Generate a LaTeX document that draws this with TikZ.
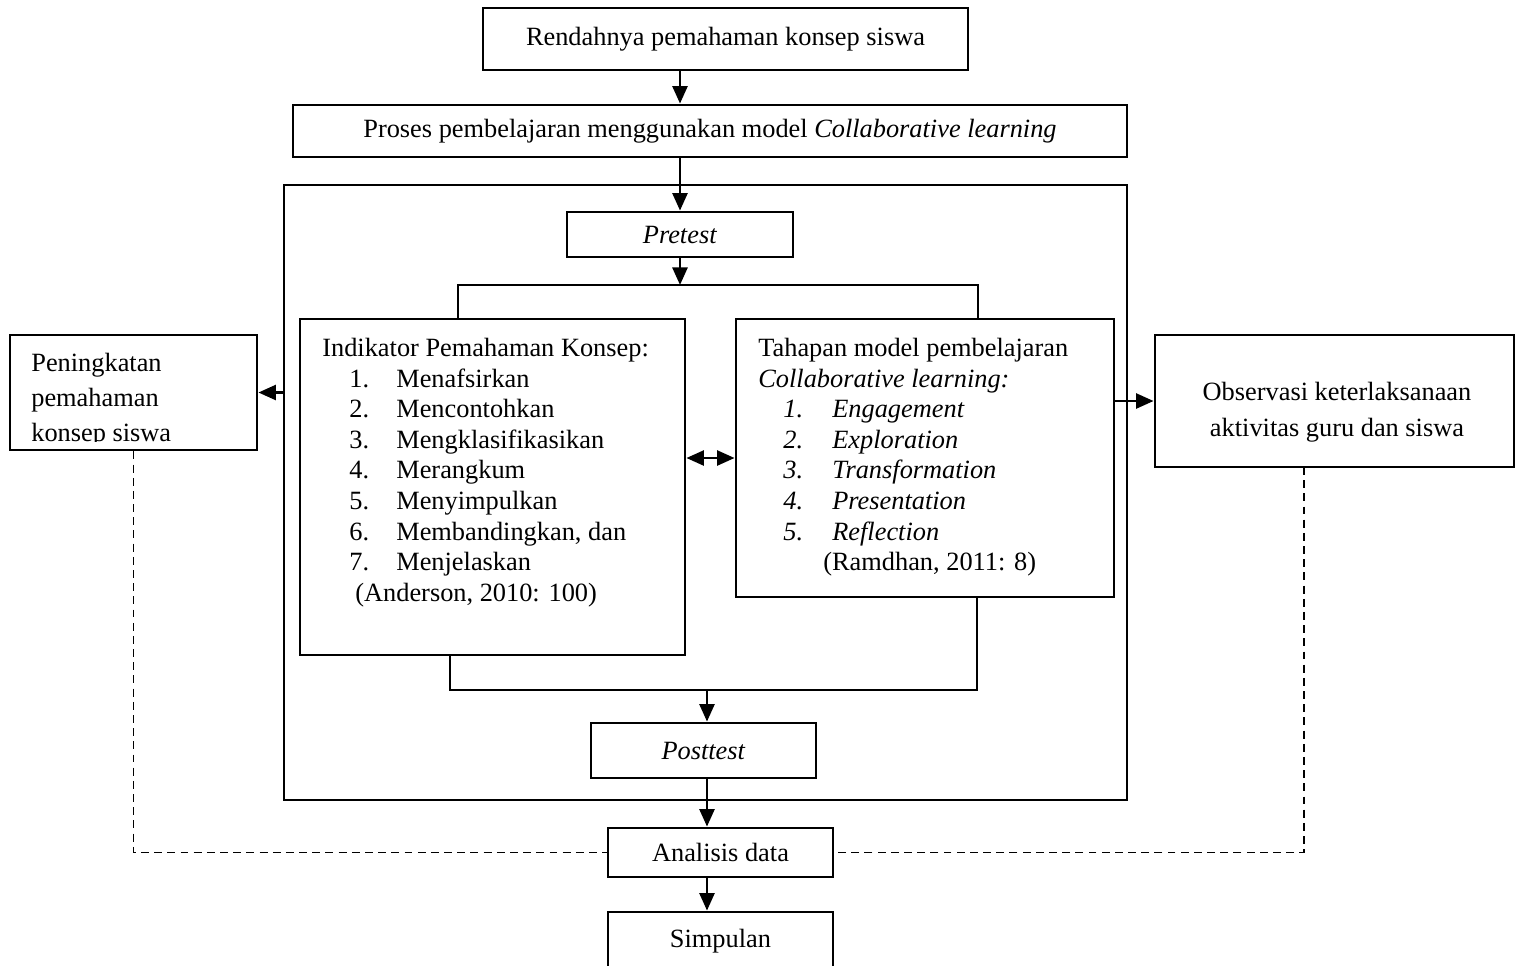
\documentclass[tikz,border=0pt]{standalone}
\usepackage{fontspec}
\setmainfont{Liberation Serif}
\usetikzlibrary{arrows.meta,positioning}

% one numbered line of a list: indent, number, text
\newcommand{\langkah}[3][0.54cm]{\hspace*{#1}\makebox[\dimexpr1.48cm-#1\relax][l]{#2}#3}

\begin{document}
\begin{tikzpicture}
        [box/.style={draw, line width=1.6pt, inner sep=0pt},
        edge/.style={line width=1.6pt, -{Triangle[length=10pt,width=8.5pt]}},
        dedge/.style={line width=1.6pt, {Triangle[length=10pt,width=8.5pt]}-{Triangle[length=10pt,width=8.5pt]}},
        link/.style={line width=1.6pt},
        dline/.style={line width=1.1pt, dash pattern=on 4.5pt off 3pt},
        txt/.style={inner sep=0pt, align=left, font=\fontsize{15}{17.4}\selectfont},
        font=\fontsize{15}{17.4}\selectfont]

        \useasboundingbox (0,0) rectangle (30.44,-19.30);

        \node[box, minimum width=9.70cm, minimum height=1.24cm] (rendah) at (14.51,-0.78) {Rendahnya pemahaman konsep siswa};
        \node[box, minimum width=16.68cm, minimum height=1.04cm] (proses) at (14.20,-2.62) {Proses pembelajaran menggunakan model \textit{Collaborative learning}};
        \node[box, minimum width=16.86cm, minimum height=12.30cm] (frame) at (14.11,-9.85) {};
        \node[box, minimum width=4.52cm, minimum height=0.90cm] (pretest) at (13.60,-4.69) {\textit{Pretest}};
        \node[box, minimum width=7.70cm, minimum height=6.72cm] (ind) at (9.85,-9.74) {};
        \node[box, minimum width=7.56cm, minimum height=5.56cm] (tah) at (18.50,-9.16) {};
        \node[box, minimum width=4.50cm, minimum height=1.10cm] (post) at (14.07,-15.01) {\textit{Posttest}};
        \node[box, minimum width=4.50cm, minimum height=0.98cm] (analisis) at (14.41,-17.05) {Analisis data};
        \node[box, minimum width=4.50cm, minimum height=1.16cm] (simpulan) at (14.41,-18.82) {Simpulan};
        \node[box, minimum width=4.94cm, minimum height=2.30cm] (pening) at (2.67,-7.85) {};
        \node[box, minimum width=7.18cm, minimum height=2.64cm] (obs) at (26.69,-8.02) {};

        % texts of the two list boxes
        \node[txt, anchor=north west] (indtxt) at (6.44,-6.76) {Indikator Pemahaman Konsep:\\
            \langkah{1.}{Menafsirkan}\\
            \langkah{2.}{Mencontohkan}\\
            \langkah{3.}{Mengklasifikasikan}\\
            \langkah{4.}{Merangkum}\\
            \langkah{5.}{Menyimpulkan}\\
            \langkah{6.}{Membandingkan, dan}\\
            \langkah{7.}{Menjelaskan}\\
            \hspace*{0.66cm}(Anderson, 2010: 100)};
        \node[txt, anchor=north west] (tahtxt) at (15.16,-6.76) {Tahapan model pembelajaran\\
            \textit{Collaborative learning:}\\
            \langkah[0.50cm]{\textit{1.}}{\textit{Engagement}}\\
            \langkah[0.50cm]{\textit{2.}}{\textit{Exploration}}\\
            \langkah[0.50cm]{\textit{3.}}{\textit{Transformation}}\\
            \langkah[0.50cm]{\textit{4.}}{\textit{Presentation}}\\
            \langkah[0.50cm]{\textit{5.}}{\textit{Reflection}}\\
            \hspace*{1.30cm}(Ramdhan, 2011: 8)};

        % side boxes (text of the left one is cut off at its last line)
        \coordinate (peningcut) at (5.14,-8.83);
        \begin{scope}
            \clip (pening.north west) rectangle (peningcut);
            \node[txt, anchor=north west, font=\fontsize{15}{19.8}\selectfont] (peningtxt) at (0.62,-7.06) {Peningkatan\\ pemahaman\\ konsep siswa};
        \end{scope}
        \node[txt, anchor=north, align=center, font=\fontsize{15}{20.4}\selectfont] (obstxt) at (26.74,-7.64) {Observasi keterlaksanaan\\ aktivitas guru dan siswa};

        \draw[edge] (rendah.south -| pretest.north) -- (proses.north -| pretest.north);
        \draw[edge] (proses.south -| pretest.north) -- (pretest.north);

        \coordinate (split) at (13.60,-5.70);
        \coordinate (splitL) at (9.16,-5.70);
        \coordinate (splitR) at (19.56,-5.70);
        \draw[edge] (pretest.south) -- (split);
        \draw[link] (ind.north -| splitL) -- (splitL) -- (splitR) -- (tah.north -| splitR);

        \draw[dedge] (tah.west -| ind.east) -- (tah.west);

        \coordinate (join) at (14.14,-13.80);
        \coordinate (joinL) at (9.00,-13.80);
        \coordinate (joinR) at (19.54,-13.80);
        \draw[link] (ind.south -| joinL) -- (joinL) -- (joinR) -- (tah.south -| joinR);
        \draw[edge] (join) -- (post.north -| join);
        \draw[edge] (post.south -| join) -- (analisis.north -| join);
        \draw[edge] (analisis.south -| join) -- (simpulan.north -| join);

        \draw[edge] (frame.west |- pening.east) -- (pening.east);
        \draw[edge] (tah.east |- obs.west) -- (obs.west);

        % dashed feedback lines
        \coordinate (obsdrop) at (26.08,-9.34);
        \draw[dline] (pening.south) |- (analisis.west);
        \draw[dline] (obsdrop) |- (analisis.east);
    \end{tikzpicture}
\end{document}
